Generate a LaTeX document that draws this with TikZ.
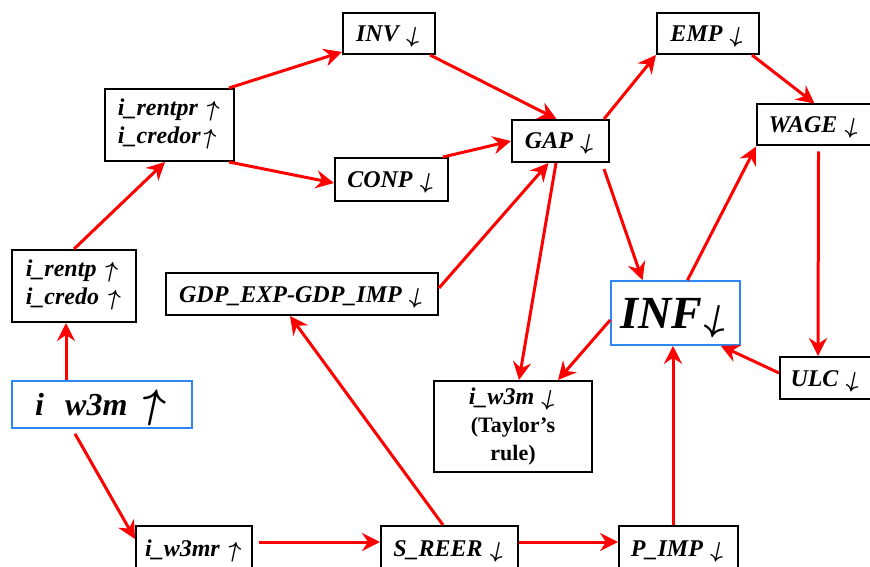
\documentclass[tikz,border=0pt]{standalone}
\usepackage{fontspec}
\setmainfont{Liberation Serif}
\usepackage{graphicx}
\usepackage{tikz}
\usetikzlibrary{arrows.meta}
\definecolor{boxblue}{RGB}{45,135,245}
\newcommand{\rise}[1][0.95]{\rotatebox{-12}{\scalebox{#1}{\boldmath$\uparrow$}}}
\newcommand{\fall}[1][0.95]{\rotatebox{-12}{\scalebox{#1}{\boldmath$\downarrow$}}}

\begin{document}
\begin{tikzpicture}[x=0.5pt, y=-0.5pt,
	var/.style={draw=black, line width=1pt, inner sep=0pt, text height=10pt, text depth=2pt, font=\bfseries\itshape\fontsize{12}{14}\selectfont},
	stack/.style={text height={}, text depth={}},
	key/.style={var, draw=boxblue, line width=0.8pt},
	flow/.style={draw=red, line width=1.5pt, -{Stealth[length=9pt, width=9pt, inset=3pt]}}]
	\useasboundingbox (0, 0) rectangle (870, 566);

	\node at (389, 33.5) [var, minimum width=46pt, minimum height=20.5pt] (inv) {INV \fall};
	\node at (169.5, 125) [var, stack, minimum width=64.5pt, minimum height=36pt, align=left] (rentpr) {i\_rentpr \rise\\i\_credor\rise};
	\node at (391.5, 179.5) [var, minimum width=56.5pt, minimum height=21.5pt] (conp) {CONP \fall};
	\node at (560.5, 141) [var, minimum width=48.5pt, minimum height=21pt] (gap) {GAP \fall};
	\node at (708, 33.5) [var, minimum width=51pt, minimum height=20.5pt] (emp) {EMP \fall};
	\node at (814.5, 125) [var, minimum width=57.5pt, minimum height=20.5pt] (wage) {WAGE \fall};
	\node at (74, 286) [var, stack, minimum width=62pt, minimum height=36pt, align=left] (rentp) {i\_rentp \rise\\i\_credo \rise};
	\node at (302, 294) [var, minimum width=136pt, minimum height=21pt] (gdp) {GDP\_EXP-GDP\_IMP \fall};
	\node at (102, 404.5) [key, text width=78.5pt, inner xsep=5.75pt, minimum height=23.5pt, text height=14pt, text depth=3pt, align=left, font=\bfseries\itshape\fontsize{16}{18}\selectfont] (iw3m) {\hspace*{5.75pt}i\ \ w3m \rise[1.2]};
	\node at (675.5, 313) [key, minimum width=64.5pt, minimum height=32pt, text height=19pt, text depth=4pt, font=\bfseries\itshape\fontsize{23}{26}\selectfont] (inf) {INF\fall[0.75]};
	\node at (826, 378) [var, minimum width=46pt, minimum height=21pt] (ulc) {ULC \fall};
	\node at (513, 426.5) [var, stack, minimum width=79pt, minimum height=45.5pt, align=center] (tay) {i\_w3m \fall\\{\upshape\fontsize{11}{13}\selectfont (Taylor’s}\\{\upshape\fontsize{11}{13}\selectfont rule)}};
	\node at (194, 548) [var, minimum width=58pt, minimum height=22pt] (w3mr) {i\_w3mr \rise};
	\node at (449.5, 548) [var, minimum width=68.5pt, minimum height=22pt] (sreer) {S\_REER \fall};
	\node at (678.5, 548) [var, minimum width=59.5pt, minimum height=22pt] (pimp) {P\_IMP \fall};

	\draw [flow] ([xshift=-18pt]iw3m.north) -- ([xshift=-4pt]rentp.south);
	\draw [flow] (rentp.north) -- ([xshift=-2.25pt]rentpr.south);
	\draw [flow] ([xshift=-3pt]rentpr.north east) -- ([yshift=1.5pt]inv.south west);
	\draw [flow] ([xshift=-3pt]rentpr.south east) -- ([yshift=-1.75pt]conp.west);
	\draw [flow] ([xshift=-3pt]inv.south east) -- ([xshift=-2pt]gap.north);
	\draw [flow] ([xshift=-3pt]conp.north east) -- (gap.west);
	\draw [flow] ([yshift=3pt]gdp.east) -- ([xshift=-6pt]gap.south);
	\draw [flow] ([xshift=-3pt]gap.north east) -- (emp.south west);
	\draw [flow] ([xshift=-4pt]emp.south east) -- (wage.north);
	\draw [flow] ([xshift=2pt, yshift=-2.5pt]wage.south) -- ([xshift=-4pt]ulc.north);
	\draw [flow] ([yshift=2.5pt]ulc.west) -- ([xshift=-10pt]inf.south east);
	\draw [flow] ([xshift=6pt]inf.north) -- (wage.south west);
	\draw [flow] ([xshift=-3pt, yshift=-3pt]gap.south east) -- ([xshift=-16.5pt]inf.north);
	\draw [flow] ([xshift=-2.25pt]gap.south) -- ([xshift=3pt]tay.north);
	\draw [flow] ([yshift=-3.5pt]inf.west) -- ([xshift=22.5pt]tay.north);
	\draw [flow] ([xshift=-13.5pt, yshift=-2.5pt]iw3m.south) -- ([yshift=-7pt]w3mr.north west);
	\draw [flow] ([xshift=3pt, yshift=3pt]w3mr.east) -- ([yshift=3pt]sreer.west);
	\draw [flow] ([xshift=-3.25pt]sreer.north) -- ([xshift=-6pt]gdp.south);
	\draw [flow] ([yshift=3pt]sreer.east) -- ([yshift=3pt]pimp.west);
	\draw [flow] ([xshift=-2.75pt]pimp.north) -- ([xshift=-1.25pt]inf.south);
\end{tikzpicture}
\end{document}
